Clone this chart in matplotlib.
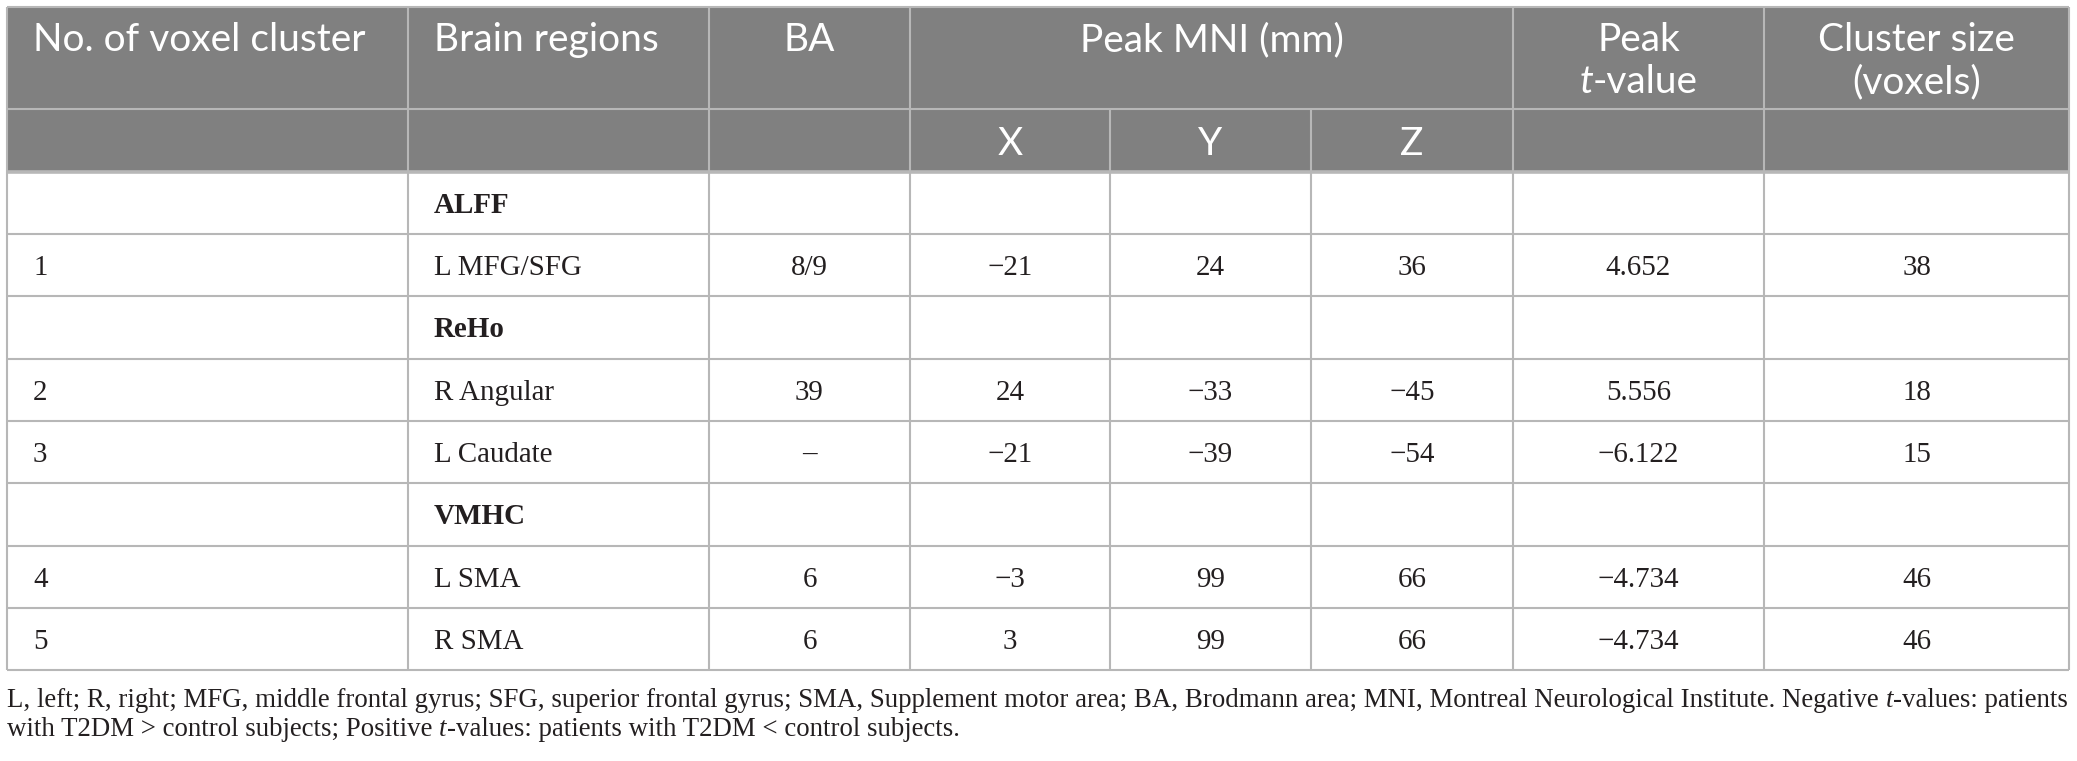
import matplotlib
matplotlib.use("Agg")
import matplotlib.pyplot as plt
from matplotlib.patches import Rectangle

# ---------------- data ----------------
header_labels = ["No. of voxel cluster", "Brain regions", "BA", "Peak MNI (mm)"]
peak_t_header = ["Peak", "t-value"]
cluster_header = ["Cluster size", "(voxels)"]
mni_axes = ["X", "Y", "Z"]

cluster_no = ["", "1", "", "2", "3", "", "4", "5"]
brain_regions = ["ALFF", "L MFG/SFG", "ReHo", "R Angular", "L Caudate", "VMHC", "L SMA", "R SMA"]
is_group = [True, False, True, False, False, True, False, False]
ba = ["", "8/9", "", "39", "–", "", "6", "6"]
mni_x = [None, -21, None, 24, -21, None, -3, 3]
mni_y = [None, 24, None, -33, -39, None, 99, 99]
mni_z = [None, 36, None, -45, -54, None, 66, 66]
peak_t = [None, 4.652, None, 5.556, -6.122, None, -4.734, -4.734]
cluster_size = [None, 38, None, 18, 15, None, 46, 46]

footnote_line1 = [("L, left; R, right; MFG, middle frontal gyrus; SFG, superior frontal gyrus; "
                   "SMA, Supplement motor area; BA, Brodmann area; MNI, Montreal Neurological "
                   "Institute. Negative ", "normal"), ("t", "italic"), ("-values: patients", "normal")]
footnote_line2 = [("with T2DM > control subjects; Positive ", "normal"), ("t", "italic"),
                  ("-values: patients with T2DM < control subjects.", "normal")]

# ---------------- layout ----------------
W, H, DPI = 2077, 761, 100
fig = plt.figure(figsize=(W / DPI, H / DPI), dpi=DPI)
fig.patch.set_facecolor("white")
ax = fig.add_axes([0, 0, 1, 1])
ax.set_xlim(0, W)
ax.set_ylim(H, 0)
ax.axis("off")
renderer = fig.canvas.get_renderer()

col_edges = [7, 408, 709, 910, 1110, 1311, 1513, 1764, 2069]
row_edges = [7, 109, 172, 234, 296, 359, 421, 483, 546, 608, 670]
header_bg = "#808080"
line_c = "#b7b7b7"
text_c = "#231f20"
serif = ["Liberation Serif", "DejaVu Serif"]
sans = ["Lato", "Open Sans", "DejaVu Sans"]


def fmt(v, dec=0):
    if v is None:
        return ""
    s = f"{abs(v):.{dec}f}"
    return ("\u2212" + s) if v < 0 else s


def text_width(s, **kw):
    t = ax.text(0, 0, "|" + s + "|", **kw)
    w1 = t.get_window_extent(renderer).width
    t.remove()
    t = ax.text(0, 0, "||", **kw)
    w0 = t.get_window_extent(renderer).width
    t.remove()
    return w1 - w0


def fit_size(s, target, **kw):
    return 20.0 * target / text_width(s, fontsize=20, **kw)


def draw_runs(x, y, runs, ha="left", **common):
    widths = [text_width(s, fontstyle=st, **common) for s, st in runs]
    total = sum(widths)
    x0 = x - total / 2 if ha == "center" else (x - total if ha == "right" else x)
    for (s, st), w in zip(runs, widths):
        stripped = s.lstrip(" ")
        lead = len(s) - len(stripped)
        off = text_width(" " * lead, fontstyle=st, **common) if lead else 0
        ax.text(x0 + off, y, stripped, fontstyle=st, ha="left", va="baseline", **common)
        x0 += w


def px(fs):
    return fs * DPI / 72.0


# header background
ax.add_patch(Rectangle((col_edges[0], row_edges[0]), col_edges[-1] - col_edges[0],
                       row_edges[2] - row_edges[0], facecolor=header_bg, edgecolor="none", zorder=0))

# grid lines
lw = 1.5
for i, y in enumerate(row_edges):
    ax.plot([col_edges[0], col_edges[-1]], [y, y], color=line_c,
            lw=(2.6 if i == 2 else lw), solid_capstyle="butt", zorder=2)
for x in col_edges:
    y0 = row_edges[1] if x in (col_edges[4], col_edges[5]) else row_edges[0]
    ax.plot([x, x], [y0, row_edges[-1]], color=line_c, lw=lw, solid_capstyle="butt", zorder=2)

# ---------------- header text ----------------
hfs = fit_size(header_labels[0], 333, family=sans)
hkw = dict(family=sans, fontsize=hfs, color="white")
cap_h = 0.72 * px(hfs)
l1 = 37 + cap_h / 2
l2 = 79 + cap_h / 2
ax.text(33, l1, header_labels[0], ha="left", va="baseline", **hkw)
ax.text(434, l1, header_labels[1], ha="left", va="baseline", **hkw)
ax.text((col_edges[2] + col_edges[3]) / 2, l1, header_labels[2], ha="center", va="baseline", **hkw)
ax.text((col_edges[3] + col_edges[6]) / 2, l1, header_labels[3], ha="center", va="baseline", **hkw)
tc = (col_edges[6] + col_edges[7]) / 2
ax.text(tc, l1, peak_t_header[0], ha="center", va="baseline", **hkw)
draw_runs(tc, l2, [(peak_t_header[1][0], "italic"), (peak_t_header[1][1:], "normal")], ha="center", **hkw)
cc = (col_edges[7] + col_edges[8]) / 2
ax.text(cc, l1, cluster_header[0], ha="center", va="baseline", **hkw)
ax.text(cc, l2, cluster_header[1], ha="center", va="baseline", **hkw)
sub_y = (row_edges[1] + row_edges[2]) / 2 + cap_h / 2
for k, lab in enumerate(mni_axes):
    ax.text((col_edges[3 + k] + col_edges[4 + k]) / 2, sub_y, lab, ha="center", va="baseline", **hkw)

# ---------------- body text ----------------
bfs = fit_size("L MFG/SFG\u22126.122\u221221 8/9", 143 + 84 + 47 + 38 + 8, family=serif)
bkw = dict(family=serif, fontsize=bfs, color=text_c)
bcap = 0.66 * px(bfs)
centered_cols = [
    (2, ba),
    (3, [fmt(v) for v in mni_x]),
    (4, [fmt(v) for v in mni_y]),
    (5, [fmt(v) for v in mni_z]),
    (6, [fmt(v, 3) for v in peak_t]),
    (7, [fmt(v) for v in cluster_size]),
]
for r in range(len(brain_regions)):
    yb = (row_edges[2 + r] + row_edges[3 + r]) / 2 + bcap / 2
    ax.text(33, yb, cluster_no[r], ha="left", va="baseline", **bkw)
    ax.text(434, yb, brain_regions[r], ha="left", va="baseline",
            fontweight=("bold" if is_group[r] else "normal"), **bkw)
    for c, vals in centered_cols:
        ax.text((col_edges[c] + col_edges[c + 1]) / 2, yb, vals[r], ha="center", va="baseline", **bkw)

# ---------------- footnote ----------------
full1 = "".join(s for s, _ in footnote_line1)
ffs = fit_size(full1, col_edges[-1] - col_edges[0], family=serif)
fkw = dict(family=serif, fontsize=ffs, color=text_c)
draw_runs(col_edges[0], 707, footnote_line1, **fkw)
draw_runs(col_edges[0], 736, footnote_line2, **fkw)

fig.savefig("out.png", dpi=DPI, facecolor="white")
